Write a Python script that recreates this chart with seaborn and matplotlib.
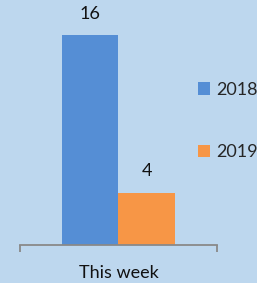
import matplotlib
matplotlib.use("Agg")
import matplotlib.pyplot as plt
import seaborn as sns
import pandas as pd
from matplotlib.patches import Patch

categories = ["This week"]
series_names = ["2018", "2019"]
values_2018 = [16]
values_2019 = [4]
colors = ["#558ED5", "#F79646"]

df = pd.DataFrame({
    "period": categories * 2,
    "year": [series_names[0]] * len(categories) + [series_names[1]] * len(categories),
    "value": values_2018 + values_2019,
})

sns.set_style("white")
plt.rcParams['font.family'] = ['Lato', 'DejaVu Sans']
bg = "#BDD7EE"
FS = 13
W, H = 257, 283
fig = plt.figure(figsize=(W / 100, H / 100), dpi=100, facecolor=bg)
ax_left, ax_right = 20 / W, 217 / W
ax_bottom, ax_top = (H - 245) / H, (H - 5) / H
ax = fig.add_axes([ax_left, ax_bottom, ax_right - ax_left, ax_top - ax_bottom])
ax.set_facecolor(bg)

sns.barplot(data=df, x="period", y="value", hue="year", palette=colors,
            width=0.574, gap=0, saturation=1, legend=False, ax=ax, linewidth=0)

ymax = 16 * 240 / 210
ax.set_ylim(0, ymax)
ax.set_xlim(-0.5, 0.5)

for c in ax.containers:
    ax.bar_label(c, padding=9.5, fontsize=FS, color="#111111")

for s in ["top", "right", "left"]:
    ax.spines[s].set_visible(False)
ax.spines["bottom"].set_color("#898989")
ax.spines["bottom"].set_linewidth(1.3)
ax.set_yticks([])
ax.set_xlabel("")
ax.set_ylabel("")
ax.set_xticks([0])
ax.set_xticklabels(categories, fontsize=FS, color="#111111")
ax.tick_params(axis="x", which="major", bottom=False, length=0, pad=14.5)
ax.set_xticks([-0.5, 0.5], minor=True)
ax.tick_params(axis="x", which="minor", bottom=True, length=5, width=1.3,
               color="#898989", direction="out")

handles = [Patch(facecolor=colors[i], edgecolor="none", label=series_names[i]) for i in range(2)]
fig.legend(handles=handles, loc="upper left", bbox_to_anchor=(189 / W, (H - 73) / H),
           frameon=False, fontsize=FS, handlelength=0.68, handleheight=0.68,
           handletextpad=0.3, labelspacing=2.55, borderpad=0)

fig.savefig("out.png", dpi=100, facecolor=bg)
